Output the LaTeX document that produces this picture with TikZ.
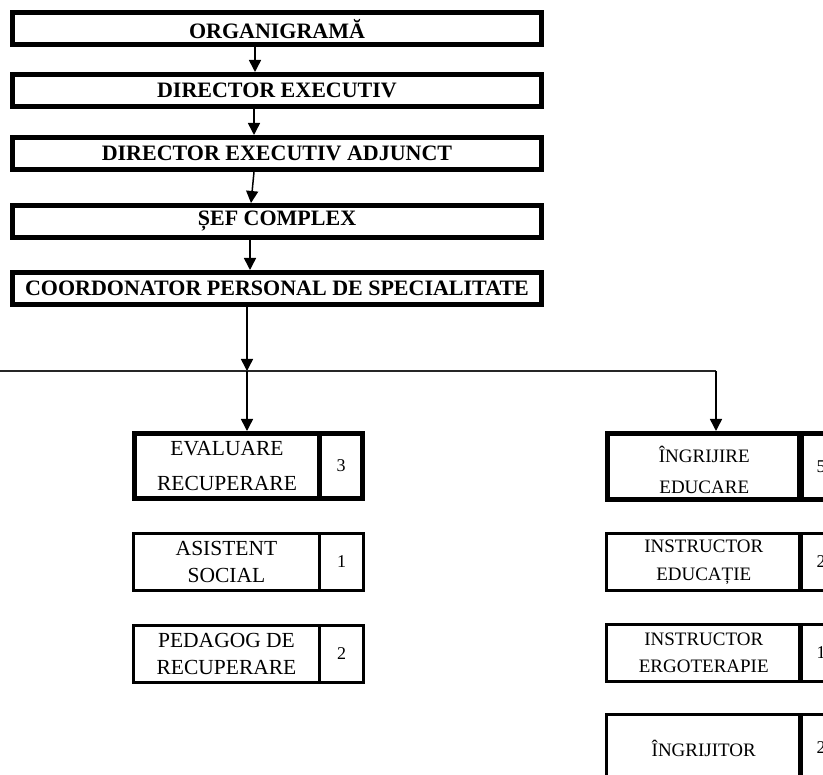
\documentclass[tikz,border=0pt]{standalone}
\usepackage{fontspec}
\setmainfont{Liberation Serif}
\usetikzlibrary{arrows.meta}
\begin{document}
\begin{tikzpicture}[x=1pt,y=-1pt,
  topbox/.style={draw, line width=5pt, minimum width=529pt, minimum height=32pt, inner sep=0pt,
    font=\bfseries\fontsize{22}{24}\selectfont},
  cell/.style={draw, inner sep=0pt, align=center},
  thick cell/.style={cell, line width=5pt},
  thin cell/.style={cell, line width=3pt},
  lfont/.style={font=\fontsize{21.5}{27.5}\selectfont},
  lfontwide/.style={font=\fontsize{21.5}{35}\selectfont},
  rfont/.style={font=\fontsize{19}{27.5}\selectfont},
  rfontwide/.style={font=\fontsize{19}{31}\selectfont},
  numfont/.style={font=\fontsize{18}{20}\selectfont},
  arr/.style={line width=1.5pt, -{Triangle[length=12pt,width=12pt]}},
  hline/.style={line width=1.6pt, draw=black!85}
]
\useasboundingbox (0,0) rectangle (823,775);
\clip (0,0) rectangle (823,775);
\fill[white] (0,0) rectangle (823,775);

% top chain
\node[topbox] (b1) at (277,29) {ORGANIGRAMĂ};
\node[topbox] (b2) at (277,90.5) {DIRECTOR EXECUTIV};
\node[topbox] (b3) at (277,153.5) {DIRECTOR EXECUTIV ADJUNCT};
\node[topbox] (b4) at (277,221.5) {ȘEF COMPLEX};
\node[topbox] (b5) at (277,288.5) {COORDONATOR PERSONAL DE SPECIALITATE};

\coordinate (x1) at (255,0);
\coordinate (x2) at (254,0);
\coordinate (x3a) at (254,0);
\coordinate (x3b) at (251,0);
\coordinate (x4) at (250,0);
\coordinate (j) at (247,371);
\coordinate (lend) at (0,371);
\coordinate (rturn) at (716,371);

\draw[arr] (b1.south -| x1) -- (b2.north -| x1);
\draw[arr] (b2.south -| x2) -- (b3.north -| x2);
\draw[arr] (b3.south -| x3a) -- (b4.north -| x3b);
\draw[arr] (b4.south -| x4) -- (b5.north -| x4);
\draw[arr] (b5.south -| j) -- (j);

% left column
\node[thick cell, lfontwide, minimum width=185pt, minimum height=65pt] (ev) at (227,466) {EVALUARE\\RECUPERARE};
\node[thick cell, numfont, minimum width=43pt, minimum height=65pt] (evn) at (341,466) {3};
\node[thin cell, lfont, minimum width=186pt, minimum height=57pt] (as) at (226.5,562) {ASISTENT\\SOCIAL};
\node[thin cell, numfont, minimum width=44pt, minimum height=57pt] (asn) at (341.5,562) {1};
\node[thin cell, lfont, minimum width=186pt, minimum height=57pt] (pe) at (226.5,654) {PEDAGOG DE\\RECUPERARE};
\node[thin cell, numfont, minimum width=44pt, minimum height=57pt] (pen) at (341.5,654) {2};

% right column
\node[thick cell, minimum width=193.5pt, minimum height=66pt] (ing) at (704.25,466.5) {};
\node[rfontwide, align=center, inner sep=0pt] (ingt) at (704.25,469.5) {ÎNGRIJIRE\\EDUCARE};
\node[thick cell, numfont, minimum width=44pt, minimum height=66pt] (ingn) at (821,466.5) {5};
\node[thin cell, rfont, minimum width=194.5pt, minimum height=57pt] (ied) at (703.75,562) {INSTRUCTOR\\EDUCAȚIE};
\node[thin cell, numfont, minimum width=44pt, minimum height=57pt] (iedn) at (821,562) {2};
\node[thin cell, rfont, minimum width=194.5pt, minimum height=57pt] (ier) at (703.75,653) {INSTRUCTOR\\ERGOTERAPIE};
\node[thin cell, numfont, minimum width=44pt, minimum height=57pt] (iern) at (821,653) {1};
\node[thin cell, rfont, minimum width=194.5pt, minimum height=67pt] (igr) at (703.75,748) {ÎNGRIJITOR};
\node[thin cell, numfont, minimum width=44pt, minimum height=67pt] (igrn) at (821,748) {2};

% distribution line
\draw[hline] (lend) -- (rturn);
\draw[arr] (j) -- (ev.north -| j);
\draw[arr] (rturn) -- (ing.north -| rturn);
\end{tikzpicture}
\end{document}
